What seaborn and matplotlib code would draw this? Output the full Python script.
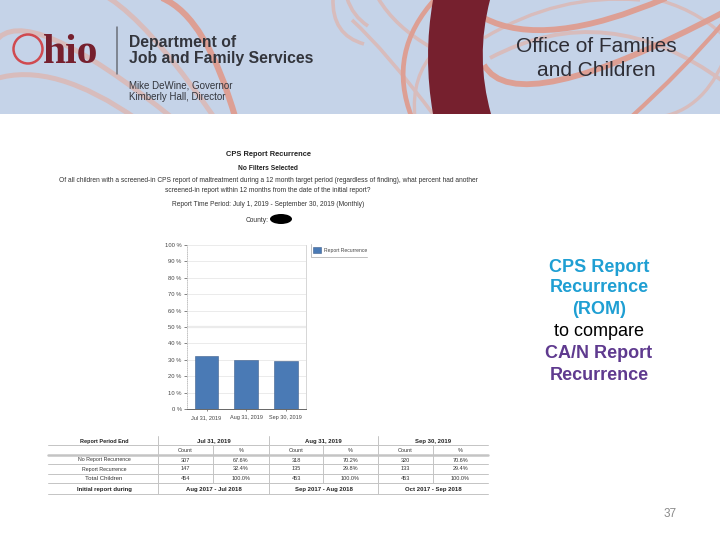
#!/usr/bin/env python3
"""
Ohio JFS slide: CPS report recurrence chart with summary table.
"""

import numpy as np
import pandas as pd
import matplotlib
matplotlib.use('Agg')
import matplotlib.pyplot as plt
import seaborn as sns
from matplotlib.patches import Circle, Ellipse, PathPatch, Rectangle
from matplotlib.path import Path

# chart data
periods = ['Jul 31, 2019', 'Aug 31, 2019', 'Sep 30, 2019']
recurrence_pct = [32.4, 29.8, 29.4]
y_ticks = [0, 10, 20, 30, 40, 50, 60, 70, 80, 90, 100]

# table data
table_initial = ['Aug 2017 - Jul 2018', 'Sep 2017 - Aug 2018', 'Oct 2017 - Sep 2018']
row_labels = ['No Report Recurrence', 'Report Recurrence', 'Total Children']
no_recur_count = ['307', '318', '320']
no_recur_pct = ['67.6%', '70.2%', '70.6%']
recur_count = ['147', '135', '133']
recur_pct = ['32.4%', '29.8%', '29.4%']
total_count = ['454', '453', '453']
total_pct = ['100.0%', '100.0%', '100.0%']

question = ['Of all children with a screened-in CPS report of maltreatment during a 12 month target period '
            '(regardless of finding), what percent had another',
            'screened-in report within 12 months from the date of the initial report?']

sns.set_theme(style='white')
plt.rcParams['font.family'] = ['Liberation Sans', 'DejaVu Sans']

fig = plt.figure(figsize=(7.2, 5.4), dpi=100, facecolor='white')

# page layer in pixel coordinates
bg = fig.add_axes([0, 0, 1, 1], zorder=0)
bg.set_xlim(0, 720)
bg.set_ylim(540, 0)
bg.axis('off')

banner = Rectangle((0, 0), 720, 114, facecolor='#c5d3e8', edgecolor='none')
bg.add_patch(banner)


def swoosh(a, m, b, lw, color, z=1):
    """Curve from a to b passing through m, clipped to the banner."""
    a, m, b = np.array(a), np.array(m), np.array(b)
    ctrl = 2 * m - (a + b) / 2
    path = Path([a, ctrl, b], [Path.MOVETO, Path.CURVE3, Path.CURVE3])
    p = PathPatch(path, fill=False, lw=lw, edgecolor=color, zorder=z, capstyle='butt')
    bg.add_patch(p)
    p.set_clip_path(banner)


strong = '#dd9f94'
soft = '#d8bcbc'
swoosh((-5, 42), (55, 40), (175, 120), 3.6, soft)
swoosh((-5, 79), (60, 80), (138, 120), 3.6, soft)
swoosh((60, -4), (120, 6), (216, 120), 3.6, soft)
swoosh((162, -2), (203, 38), (236, 120), 4.4, strong, 2)
swoosh((333, -2), (340, 28), (364, 44), 2.6, soft)
swoosh((347, -2), (355, 14), (368, 26), 2.6, soft)
swoosh((378, -2), (400, 25), (432, 48), 2.6, soft)
swoosh((352, 20), (390, 60), (436, 118), 2.6, soft)
swoosh((436, -2), (405, 55), (412, 118), 3.4, strong, 2)
swoosh((436, 50), (418, 80), (415, 118), 2.4, soft)
swoosh((484, 18), (560, 29), (666, -2), 4.2, strong, 2)
swoosh((484, 65), (560, 80), (724, 12), 4.2, strong, 2)
swoosh((484, 38), (560, 6), (640, 0), 2.4, soft)
swoosh((490, 58), (607, 33), (724, 82), 2.8, soft)
swoosh((650, -2), (690, 12), (724, 36), 2.4, soft)
swoosh((724, 22), (680, 70), (630, 118), 3, strong)
swoosh((640, 118), (690, 105), (724, 60), 2.4, soft)

# dark band
band = Path([(433, 0), (423, 57), (433, 114), (491, 114), (475, 57), (490, 0), (433, 0)],
            [Path.MOVETO, Path.CURVE3, Path.CURVE3, Path.LINETO, Path.CURVE3, Path.CURVE3, Path.CLOSEPOLY])
bg.add_patch(PathPatch(band, facecolor='#76202e', edgecolor='none', zorder=3))

# logo
bg.add_patch(Circle((28, 49), 14.5, fill=False, edgecolor='#d04a50', lw=1.8, zorder=4))
bg.text(43, 63, 'hio', family='Liberation Serif', weight='bold', fontsize=30,
        color='#76202e', ha='left', va='baseline', zorder=4)
bg.plot([117, 117], [27, 74], color='#6a6f78', lw=1.1, zorder=4)
bg.text(129, 42, 'Department of', weight='bold', fontsize=11.3, color='#33353c', va='center', zorder=4)
bg.text(129, 59, 'Job and Family Services', weight='bold', fontsize=11.3, color='#33353c', va='center', zorder=4)
bg.text(129, 85, 'Mike DeWine, Governor', fontsize=7, color='#33353c', va='center', zorder=4)
bg.text(129, 97, 'Kimberly Hall, Director', fontsize=7, color='#33353c', va='center', zorder=4)
bg.text(596, 47, 'Office of Families', fontsize=15, color='#2e2e36', ha='center', va='center', zorder=4)
bg.text(596, 70, 'and Children', fontsize=15, color='#2e2e36', ha='center', va='center', zorder=4)

# report heading
bg.text(268, 154, 'CPS Report Recurrence', weight='bold', fontsize=5.4, color='#222222', ha='center', va='center')
bg.text(268, 168, 'No Filters Selected', weight='bold', fontsize=4.8, color='#222222', ha='center', va='center')
bg.text(268, 181, question[0], fontsize=4.8, color='#333333', ha='center', va='center')
bg.text(268, 191, question[1], fontsize=4.8, color='#333333', ha='center', va='center')
bg.text(268, 205, 'Report Time Period: July 1, 2019 - September 30, 2019 (Monthly)', fontsize=4.8,
        color='#333333', ha='center', va='center')
bg.text(257, 220, 'County:', fontsize=4.8, color='#333333', ha='center', va='center')
bg.add_patch(Ellipse((281, 219), 22, 10, facecolor='black', edgecolor='none'))

# table
col_edges = [158, 269, 378, 488]
sub_edges = [213, 323, 433]
for y, lw in [(445, 0.7), (455, 1.8), (464, 0.7), (474, 0.7), (483, 0.7), (494, 0.7)]:
    bg.plot([48, 488], [y, y], color='#c4c4c4', lw=lw)
for x in col_edges[:3]:
    bg.plot([x, x], [436, 494], color='#c4c4c4', lw=0.7)
for x in sub_edges:
    bg.plot([x, x], [445, 483], color='#c4c4c4', lw=0.7)

tbl = dict(fontsize=4.0, color='#333333', ha='center', va='center')
bold = dict(weight='bold', color='#222222', ha='center', va='center')
bg.text(104, 441, 'Report Period End', fontsize=4.0, **bold)
bg.text(104, 489, 'Initial report during', fontsize=4.3, **bold)
for label, y, size in zip(row_labels, [460, 469, 479], [3.8, 3.8, 4.4]):
    bg.text(104, y, label, fontsize=size, color='#333333', ha='center', va='center')
for i, per in enumerate(periods):
    left, right = col_edges[i], col_edges[i + 1]
    mid = sub_edges[i]
    count_x = (left + mid) / 2
    pct_x = (mid + right) / 2
    bg.text((left + right) / 2, 441, per, fontsize=4.3, **bold)
    bg.text(count_x, 451, 'Count', **tbl)
    bg.text(pct_x, 451, '%', **tbl)
    bg.text(count_x, 460, no_recur_count[i], **tbl)
    bg.text(pct_x, 460, no_recur_pct[i], **tbl)
    bg.text(count_x, 469, recur_count[i], **tbl)
    bg.text(pct_x, 469, recur_pct[i], **tbl)
    bg.text(count_x, 479, total_count[i], **tbl)
    bg.text(pct_x, 479, total_pct[i], **tbl)
    bg.text((left + right) / 2, 489, table_initial[i], fontsize=4.3, **bold)

# side note
blue = '#1f9fd3'
purple = '#5f3a8f'
side_lines = [('CPS Report', blue, 'bold', 267), ('Recurrence', blue, 'bold', 288), ('(ROM)', blue, 'bold', 310),
              ('to compare', 'black', 'normal', 331), ('CA/N Report', purple, 'bold', 353),
              ('Recurrence', purple, 'bold', 375)]
for txt, col, wt, y in side_lines:
    bg.text(599, y, txt, color=col, weight=wt, fontsize=13, ha='center', va='center')
bg.text(670, 514, '37', color='#8a8a8a', fontsize=8.5, ha='center', va='center')

# bar chart
df = pd.DataFrame({'period': periods, 'pct': recurrence_pct})
ax = fig.add_axes([186.7 / 720, (540 - 409) / 540, 119 / 720, 164 / 540], zorder=2)
ax.patch.set_alpha(0)
sns.barplot(data=df, x='period', y='pct', ax=ax, color='#4a7ab5', width=0.6, saturation=1,
            edgecolor='#3f5f8c', linewidth=0.4, label='Report Recurrence', legend=False, zorder=3)
ax.set_ylim(0, 100)
ax.set_yticks(y_ticks)
ax.set_yticklabels([f'{v} %' for v in y_ticks], fontsize=4.2, color='#444444')
ax.tick_params(axis='x', labelsize=4.0, labelcolor='#444444', length=1.5, width=0.4, pad=3, bottom=True)
ax.tick_params(axis='y', length=2, width=0.4, pad=1.5, left=True)
ax.set_xlabel('')
ax.set_ylabel('')
for v in y_ticks[1:]:
    ax.axhline(v, color='#ebebeb', lw=1.6 if v == 50 else 0.7, zorder=1)
ax.spines['top'].set_visible(False)
ax.spines['left'].set_color('#aaaaaa')
ax.spines['left'].set_linewidth(0.5)
ax.spines['left'].set_linestyle(':')
ax.spines['right'].set_color('#d0d0d0')
ax.spines['right'].set_linewidth(0.6)
ax.spines['bottom'].set_color('#666666')
ax.spines['bottom'].set_linewidth(0.7)

# legend, only left and bottom rules on the box
handles, labels = ax.get_legend_handles_labels()
leg = fig.legend(handles[:1], labels[:1], loc='upper left', bbox_to_anchor=(309 / 720, 1 - 243 / 540),
                 frameon=False, fontsize=3.6, handlelength=1.6, handleheight=1.4, handletextpad=0.5,
                 borderpad=0.3, labelcolor='#444444')
bg.plot([310.5, 310.5, 367], [244, 256.5, 256.5], color='#c0c0c0', lw=0.7)

fig.savefig('out.png', dpi=100)
plt.close(fig)
